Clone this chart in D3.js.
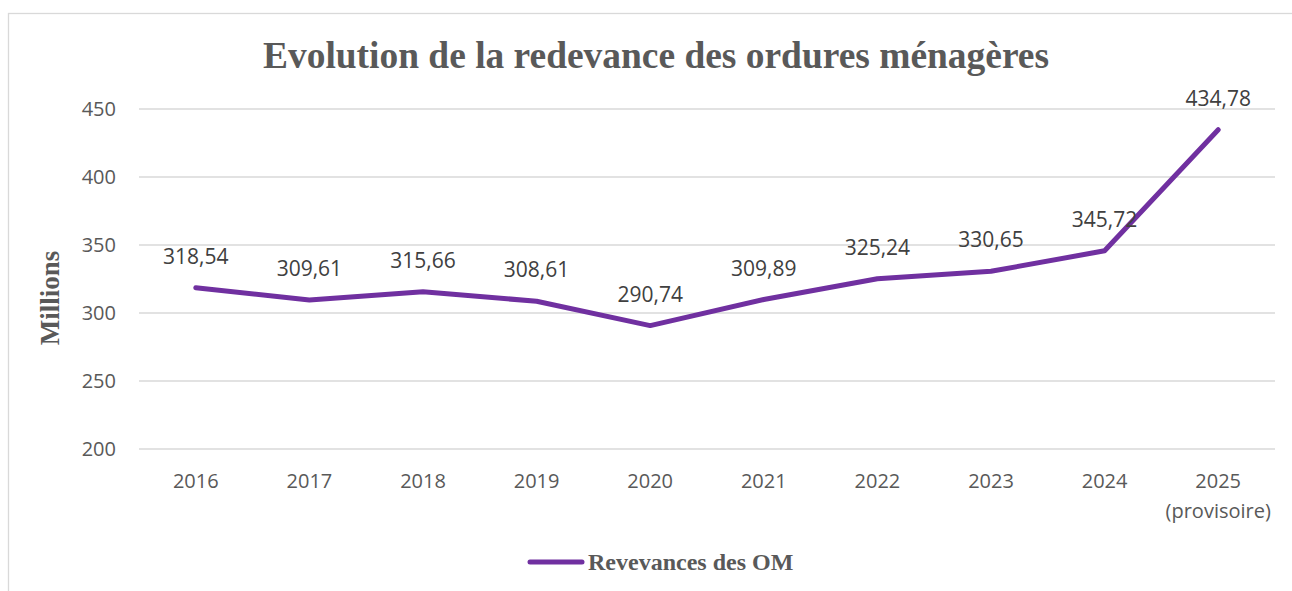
<!DOCTYPE html>
<html>
<head>
<meta charset="utf-8">
<script src="https://cdn.jsdelivr.net/npm/d3@7"></script>
<style>
  body { margin: 0; background: #fff; }
</style>
</head>
<body>
<div id="chart"></div>
<script>
// chart data
const years = ["2016", "2017", "2018", "2019", "2020", "2021", "2022", "2023", "2024", "2025"];
const subLabels = ["", "", "", "", "", "", "", "", "", "(provisoire)"];
const revenues = [318.54, 309.61, 315.66, 308.61, 290.74, 309.89, 325.24, 330.65, 345.72, 434.78];
const yTicks = [200, 250, 300, 350, 400, 450];

const width = 1292, height = 591;
const margin = {left: 139, right: 17, top: 109, bottom: 142};

const svg = d3.select("#chart").append("svg").attr("width", width).attr("height", height);

// chart frame
svg.append("rect")
    .attr("x", 8.5).attr("y", 13.5)
    .attr("width", width + 10).attr("height", height + 10)
    .attr("fill", "none").attr("stroke", "#d9d9d9").attr("stroke-width", 1.3);

const x = d3.scaleBand()
    .domain(years)
    .range([margin.left, width - margin.right]);

const y = d3.scaleLinear()
    .domain([200, 450])
    .range([height - margin.bottom, margin.top]);

// gridlines
svg.append("g").selectAll("line")
    .data(yTicks)
    .enter().append("line")
    .attr("x1", margin.left).attr("x2", width - margin.right)
    .attr("y1", d => y(d)).attr("y2", d => y(d))
    .attr("stroke", "#d9d9d9").attr("stroke-width", 1.3);

// y axis labels
svg.append("g").selectAll("text")
    .data(yTicks)
    .enter().append("text")
    .attr("x", 116).attr("y", d => y(d) + 7)
    .attr("text-anchor", "end")
    .style("font-family", "'Open Sans', sans-serif").style("font-size", "20px")
    .attr("fill", "#595959")
    .text(d => d);

// x axis labels
const xl = svg.append("g").selectAll("g")
    .data(years)
    .enter().append("g");
xl.append("text")
    .attr("x", d => x(d) + x.bandwidth() / 2).attr("y", 488)
    .attr("text-anchor", "middle")
    .style("font-family", "'Open Sans', sans-serif").style("font-size", "20px")
    .attr("fill", "#595959")
    .text(d => d);
xl.append("text")
    .attr("x", d => x(d) + x.bandwidth() / 2).attr("y", 518)
    .attr("text-anchor", "middle")
    .style("font-family", "'Open Sans', sans-serif").style("font-size", "20px")
    .attr("fill", "#595959")
    .text((d, i) => subLabels[i]);

// line
const line = d3.line()
    .x((d, i) => x(years[i]) + x.bandwidth() / 2)
    .y(d => y(d));

svg.append("path")
    .datum(revenues)
    .attr("fill", "none")
    .attr("stroke", "#7030a0")
    .attr("stroke-width", 5)
    .attr("stroke-linejoin", "round")
    .attr("stroke-linecap", "round")
    .attr("d", line);

// data labels
svg.append("g").selectAll("text")
    .data(revenues)
    .enter().append("text")
    .attr("x", (d, i) => x(years[i]) + x.bandwidth() / 2)
    .attr("y", d => y(d) - 24)
    .attr("text-anchor", "middle")
    .style("font-family", "'Open Sans', sans-serif").style("font-size", "21px")
    .attr("fill", "#404040")
    .text(d => d.toFixed(2).replace(".", ","));

// title
svg.append("text")
    .attr("x", 656).attr("y", 68)
    .attr("text-anchor", "middle")
    .attr("textLength", 786).attr("lengthAdjust", "spacingAndGlyphs")
    .style("font-family", "'Liberation Serif', 'Times New Roman', serif")
    .style("font-size", "38px").style("font-weight", "bold")
    .attr("fill", "#595959")
    .text("Evolution de la redevance des ordures ménagères");

// y axis title
svg.append("text")
    .attr("transform", "translate(59,298) rotate(-90)")
    .attr("text-anchor", "middle")
    .style("font-family", "'Liberation Serif', 'Times New Roman', serif")
    .style("font-size", "27px").style("font-weight", "bold")
    .attr("fill", "#595959")
    .text("Millions");

// legend
svg.append("line")
    .attr("x1", 530).attr("x2", 582).attr("y1", 562).attr("y2", 562)
    .attr("stroke", "#7030a0").attr("stroke-width", 5).attr("stroke-linecap", "round");
svg.append("text")
    .attr("x", 588).attr("y", 570)
    .style("font-family", "'Liberation Serif', 'Times New Roman', serif")
    .style("font-size", "24px").style("font-weight", "bold")
    .attr("fill", "#595959")
    .text("Revevances des OM");
</script>
</body>
</html>
